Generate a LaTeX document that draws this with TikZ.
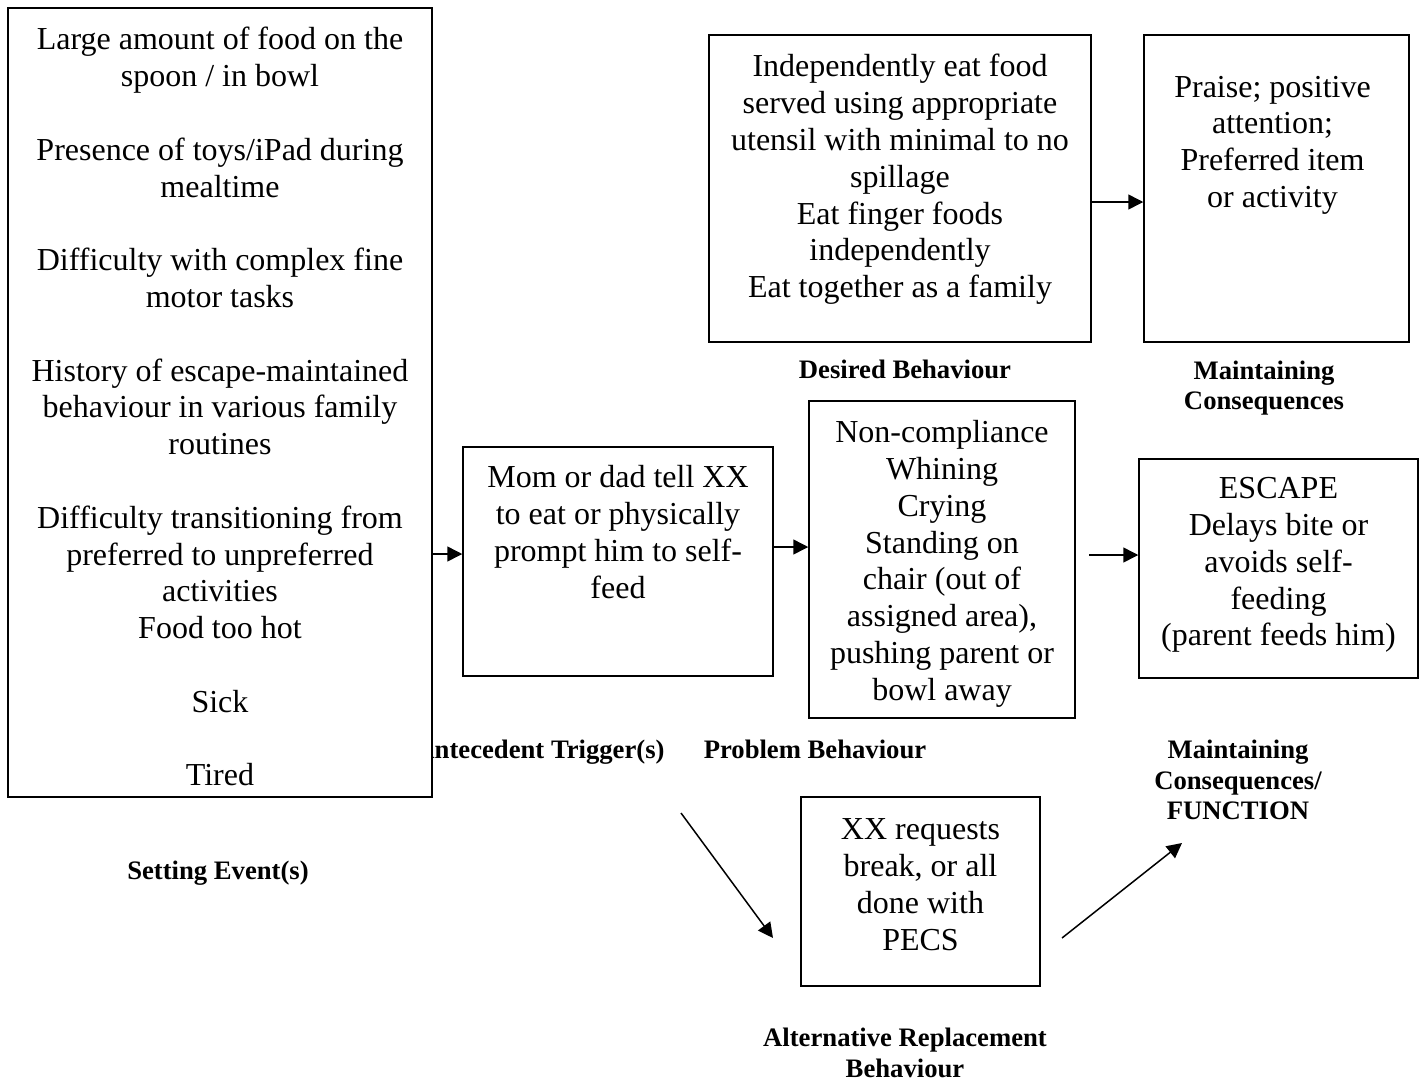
\documentclass[tikz,border=0pt]{standalone}
\usepackage{fontspec}
\setmainfont{Liberation Serif}
\usetikzlibrary{positioning,arrows.meta}
\tikzset{
  box/.style={draw, line width=1.5pt, fill=white, inner sep=0pt},
  txt/.style={inner sep=0pt, align=flush center, font=\fontsize{32}{36.8}\selectfont},
  lbl/.style={inner sep=0pt, align=flush center, font=\fontsize{26.67}{30.7}\selectfont\bfseries},
  arr/.style={line width=1.5pt, -{Triangle[length=15pt,width=15pt]}}
}
\newcommand\gap{\\[36.8pt]}
\begin{document}
\begin{tikzpicture}[x=1pt,y=-1pt]
        \useasboundingbox (0,0) rectangle (1421,1082);
        % labels under the boxes
        \node[lbl] (trigl) at (540,752) {Antecedent Trigger(s)};
        \node[lbl] (probl) at (815,749) {Problem Behaviour};
        \node[lbl] (funcl) at (1238,780) {Maintaining\\Consequences/\\FUNCTION};
        \node[lbl] (setl) at (218,873) {Setting Event(s)};
        \node[lbl] (altl) at (905,1053) {Alternative Replacement\\Behaviour};
        \node[lbl] (desl) at (905,369) {Desired Behaviour};
        \node[lbl] (consl) at (1264,388) {Maintaining\\Consequences};
        % boxes
        \node[box,minimum width=424pt,minimum height=789pt] (setev) at (220,402.5) {};
        \node[box,minimum width=310pt,minimum height=229pt] (trig) at (618,561.5) {};
        \node[box,minimum width=266pt,minimum height=317pt] (prob) at (942,559.5) {};
        \node[box,minimum width=279pt,minimum height=219pt] (esc) at (1278.5,568.5) {};
        \node[box,minimum width=382pt,minimum height=307pt] (des) at (900,188.5) {};
        \node[box,minimum width=265pt,minimum height=307pt] (cons) at (1276.5,188.5) {};
        \node[box,minimum width=239pt,minimum height=189pt] (alt) at (920.5,891.5) {};
        % texts
        \node[txt,text width=420pt,below=20pt of setev.north] (sett) {Large amount of food on the\\spoon / in bowl\gap
          Presence of toys/iPad during\\mealtime\gap
          Difficulty with complex fine\\motor tasks\gap
          History of escape-maintained\\behaviour in various family\\routines\gap
          Difficulty transitioning from\\preferred to unpreferred\\activities\\Food too hot\gap
          Sick\gap
          Tired};
        \node[txt,text width=306pt,below=19pt of trig.north] (trigt) {Mom or dad tell XX\\to eat or physically\\prompt him to self-\\feed};
        \node[txt,text width=262pt,below=20pt of prob.north] (probt) {Non-compliance\\Whining\\Crying\\Standing on\\chair (out of\\assigned area),\\pushing parent or\\bowl away};
        \node[txt,text width=275pt,below=19pt of esc.north] (esct) {ESCAPE\\Delays bite or\\avoids self-\\feeding\\(parent feeds him)};
        \node[txt,text width=378pt,below=20pt of des.north] (dest) {Independently eat food\\served using appropriate\\utensil with minimal to no\\spillage\\Eat finger foods\\independently\\Eat together as a family};
        \node[txt,text width=261pt,below=41.5pt of cons.north,xshift=-4pt] (const) {Praise; positive\\attention;\\Preferred item\\or activity};
        \node[txt,text width=235pt,below=22.5pt of alt.north] (altt) {XX requests\\break, or all\\done with\\PECS};
        % connectors
        \coordinate (pfree) at (1089,555);
        \coordinate (d1) at (681,813);
        \coordinate (d2) at (773,938);
        \coordinate (d3) at (1062,938);
        \coordinate (d4) at (1182,843);
        \draw[arr] (setev.east |- 0,554) -- (trig.west |- 0,554);
        \draw[arr] (trig.east |- 0,547) -- (prob.west |- 0,547);
        \draw[arr] (pfree) -- (esc.west |- pfree);
        \draw[arr] (des.east |- 0,202) -- (cons.west |- 0,202);
        \draw[arr] (d1) -- (d2);
        \draw[arr] (d3) -- (d4);
      \end{tikzpicture}
\end{document}
